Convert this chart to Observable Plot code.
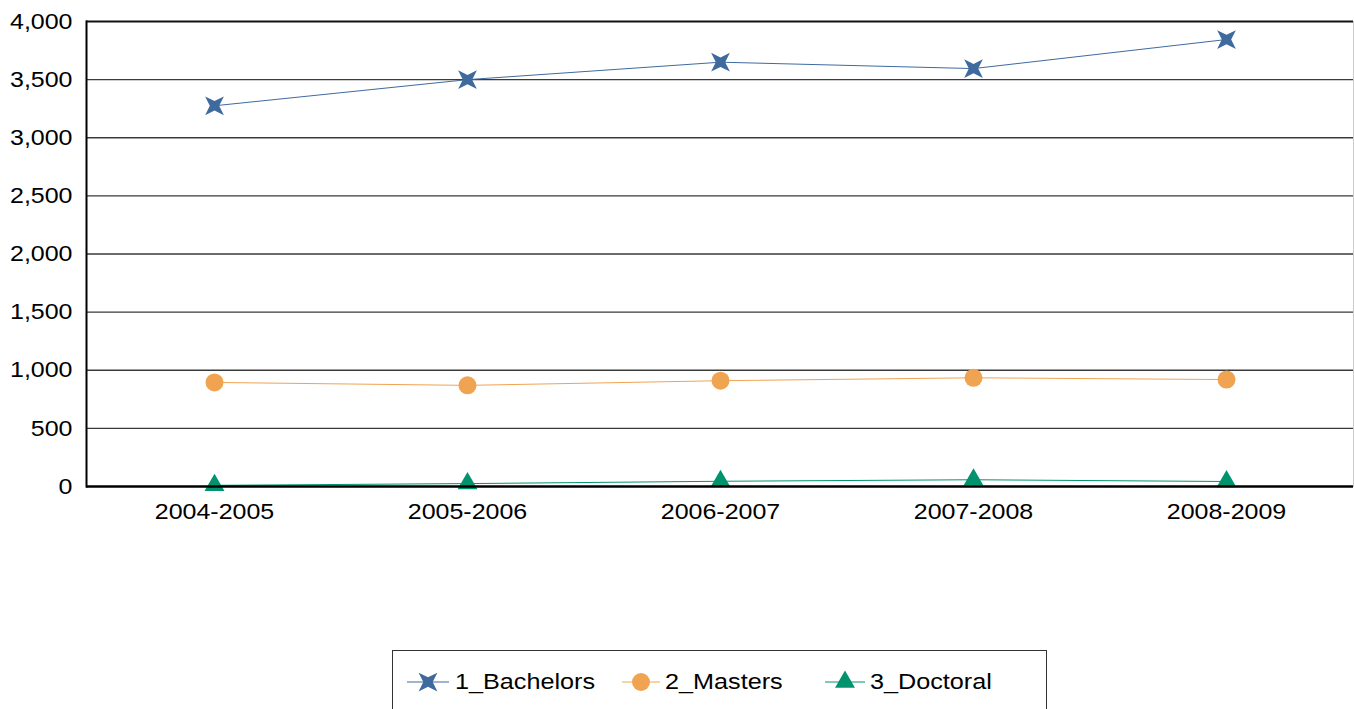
<!DOCTYPE html>
<html><head><meta charset="utf-8">
<script src="https://cdn.jsdelivr.net/npm/d3@7"></script>
<script src="https://cdn.jsdelivr.net/npm/@observablehq/plot@0.6"></script>
<style>
body{margin:0;background:#fff;font-family:"Liberation Sans",Arial,sans-serif;position:relative;width:1354px;height:709px;overflow:hidden}
#legend{position:absolute;left:392px;top:650px;width:655px;height:70px;border:1px solid #333;box-sizing:border-box;background:#fff}
#legend svg{position:absolute}
#legend span{position:absolute;top:18px;font-size:22.5px;line-height:26px;white-space:nowrap;display:inline-block;transform:scaleX(1.12);transform-origin:left center;color:#000}
</style>
</head><body><div id="chart"></div><div id="legend"></div>
<script>
const years = ["2004-2005","2005-2006","2006-2007","2007-2008","2008-2009"];
const bachelors = [3275,3500,3650,3595,3845];
const masters = [895,870,910,935,920];
const doctoral = [10,25,45,58,43];
const yTicks = [0,500,1000,1500,2000,2500,3000,3500,4000];
const seriesNames = ["1_Bachelors","2_Masters","3_Doctoral"];
const colors = ["#3e6a9e","#f0a452","#00936e"];
const seriesValues = [bachelors, masters, doctoral];

const star4 = {
  draw(ctx, size) {
    const a = Math.sqrt(size / Math.PI) * 0.75;
    const b = a * 0.5;
    ctx.moveTo(0, -b);
    ctx.lineTo(a, -a);
    ctx.lineTo(b, 0);
    ctx.lineTo(a, a);
    ctx.lineTo(0, b);
    ctx.lineTo(-a, a);
    ctx.lineTo(-b, 0);
    ctx.lineTo(-a, -a);
    ctx.closePath();
  }
};
const symbols = [star4, "circle", "triangle"];
const radii = [12.5, 9, 7.4];

const rows = [];
seriesNames.forEach((s, i) => years.forEach((y, j) => rows.push({series: s, year: y, value: seriesValues[i][j]})));

const chart = Plot.plot({
  width: 1354, height: 560,
  marginLeft: 86, marginTop: 21, marginRight: 1, marginBottom: 74,
  style: {fontFamily: '"Liberation Sans", Arial, sans-serif', fontSize: "22.5px", color: "#000", background: "#fff"},
  x: {type: "point", domain: years, padding: 0.5, label: null},
  y: {domain: [0, 4000], label: null},
  color: {domain: seriesNames, range: colors},
  marks: [
    Plot.ruleY(yTicks.slice(1, -1), {stroke: "#3a3a3a", strokeWidth: 1.3}),
    Plot.ruleY([4000], {stroke: "#111", strokeWidth: 2}),
    Plot.frame({anchor: "right", stroke: "#ccc", strokeWidth: 1}),
    Plot.axisY({ticks: yTicks, tickFormat: d3.format(","), tickSize: 0, tickPadding: 14, fontSize: 22.5}),
    Plot.axisX({tickSize: 0, tickPadding: 17, fontSize: 22.5}),
    Plot.line(rows, {x: "year", y: "value", z: "series", stroke: "series", strokeWidth: 1}),
    ...seriesNames.map((s, i) => Plot.dot(rows.filter(d => d.series === s), {
      x: "year", y: "value", fill: colors[i], stroke: "none", symbol: () => symbols[i], r: radii[i]
    })),
    Plot.ruleY([0], {stroke: "#000", strokeWidth: 2.5}),
    Plot.frame({anchor: "left", stroke: "#000", strokeWidth: 2})
  ]
});
document.getElementById("chart").appendChild(chart);
chart.querySelectorAll('g[aria-label$="tick label"] text').forEach(t => {
  const L = t.getComputedTextLength();
  t.setAttribute("textLength", L * 1.11);
  t.setAttribute("lengthAdjust", "spacingAndGlyphs");
});

// legend
const legend = d3.select("#legend");
const items = [
  {lineX: 14, lineW: 42, textX: 62},
  {lineX: 229, lineW: 38, textX: 272},
  {lineX: 432, lineW: 40, textX: 477}
];
seriesNames.forEach((s, i) => {
  const it = items[i];
  const svg = legend.append("svg").attr("width", it.lineW + 4).attr("height", 30)
    .style("left", (it.lineX - 2) + "px").style("top", "16px");
  const cx = it.lineW / 2 + 2;
  svg.append("line").attr("x1", 2).attr("x2", it.lineW + 2).attr("y1", 15).attr("y2", 15)
    .attr("stroke", colors[i]).attr("stroke-width", 1);
  const sym = typeof symbols[i] === "string" ? (symbols[i] === "circle" ? d3.symbolCircle : d3.symbolTriangle) : symbols[i];
  svg.append("path").attr("transform", `translate(${cx},15)`)
    .attr("d", d3.symbol(sym, Math.PI * radii[i] * radii[i])()).attr("fill", colors[i]);
  legend.append("span").style("left", it.textX + "px").text(s);
});
</script>
</body></html>
